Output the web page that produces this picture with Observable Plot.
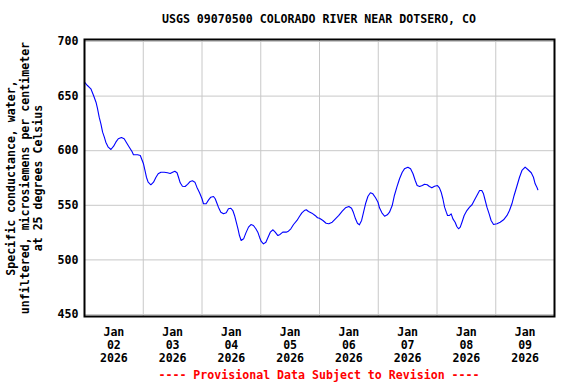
<!DOCTYPE html>
<html><head><meta charset="utf-8">
<script src="https://cdn.jsdelivr.net/npm/d3@7"></script>
<script src="https://cdn.jsdelivr.net/npm/@observablehq/plot@0.6"></script>
<style>
body{margin:0;background:#fff;}
#wrap{position:relative;width:576px;height:384px;overflow:hidden;font-family:"DejaVu Sans Mono",monospace;font-weight:bold;font-size:11.6px;color:#000;}
#title{margin-left:84px;width:470px;height:22px;padding-top:12px;line-height:14px;text-align:center;white-space:nowrap;}
#foot{margin-left:84px;width:470px;height:18px;line-height:18px;text-align:center;color:#ff0000;white-space:nowrap;}
#ylab{position:absolute;left:-124px;top:157px;width:300px;height:42px;line-height:13.5px;text-align:center;transform:rotate(-90deg);white-space:nowrap;}
#chart svg{display:block;font-family:"DejaVu Sans Mono",monospace;font-weight:bold;font-size:11.6px;}
</style></head>
<body>
<div id="wrap">
<div id="title">USGS 09070500 COLORADO RIVER NEAR DOTSERO, CO</div>
<div id="chart"></div>
<div id="foot">---- Provisional Data Subject to Revision ----</div>
<div id="ylab">Specific conductance, water,<br>unfiltered, microsiemens per centimeter<br>at 25 degrees Celsius</div>
</div>
<script>
// hours after 2026-01-02 00:00
const hours = [0,1.2,2.6,3.7,4.7,5.3,6.0,6.7,7.4,8.1,
8.7,9.7,10.8,11.9,12.8,13.8,15.1,16.2,17.3,18.3,
19.4,20.0,21.7,22.8,23.3,24.1,24.7,25.3,26.0,27.1,
28.2,29.2,30.1,31.2,32.6,33.9,35.0,36.0,36.9,37.8,
38.4,39.1,40.0,41.1,42.1,43.2,44.1,45.1,45.9,46.9,
47.3,48.0,48.6,49.7,50.7,51.6,52.7,53.4,54.1,54.7,
55.7,56.8,57.9,58.8,59.8,60.6,61.3,62.0,62.7,63.3,
64.0,65.0,65.9,67.0,68.0,69.0,70.0,70.8,71.5,72.2,
73.1,74.1,74.9,75.9,77.0,77.9,79.0,79.9,81.0,82.4,
83.3,84.3,85.4,86.8,87.8,88.8,89.8,90.6,91.5,92.9,
94.2,95.2,96.0,97.4,98.7,99.8,101.2,102.5,103.9,105.3,
106.6,108.0,109.1,109.9,110.7,111.5,112.3,113.2,114.0,114.8,
115.8,116.8,117.8,118.9,119.9,120.5,121.5,122.6,123.7,124.6,
125.7,126.6,127.6,128.7,129.8,130.7,132.1,133.2,134.2,135.1,
135.9,136.9,138.0,138.9,140.0,140.9,141.9,143.0,144.2,145.0,
145.7,146.4,147.1,147.8,148.3,149.1,149.8,150.5,151.4,152.1,
152.8,153.5,154.2,155.1,156.2,157.3,158.3,159.2,160.3,161.4,
162.3,163.0,163.7,164.4,165.3,166.1,167.1,168.5,169.8,171.2,
172.6,173.6,174.6,175.5,176.6,177.7,178.7,180.0,181.1,182.5,
183.4,184.1,184.8,185.2];
const conductance = [662.7,659.7,656.7,650.6,644.4,638.7,630.7,624.6,617.0,612.4,
607.8,603.2,601.1,604.1,607.8,610.9,612.1,610.9,606.9,603.2,
599.3,596.3,596.3,595.6,592.6,588.0,581.9,575.7,571.2,568.8,
571.2,575.7,578.9,580.3,580.3,579.8,579.1,580.3,581.2,579.8,
575.7,570.6,567.5,567.2,569.1,571.8,572.4,571.2,566.6,562.0,
559.9,556.0,551.4,551.4,555.0,557.4,558.1,556.0,551.9,548.3,
543.7,542.2,543.1,546.8,547.3,545.2,540.7,534.5,528.5,522.3,
517.8,519.3,524.5,530.0,532.4,531.5,528.5,525.4,520.8,516.9,
514.7,516.2,520.2,525.4,527.6,525.4,522.3,523.3,525.4,525.4,
526.3,528.5,532.4,536.1,539.7,543.1,545.2,545.9,544.3,542.8,
540.7,538.6,538.2,536.1,533.6,533.1,534.5,537.6,540.7,544.6,
547.7,548.9,547.3,543.1,537.6,533.6,532.1,536.1,543.7,551.4,
558.3,561.5,560.5,556.9,552.8,547.7,543.1,540.0,541.3,543.7,
549.8,559.0,566.6,574.3,580.3,583.4,584.9,583.4,578.9,572.7,
568.1,567.2,568.1,569.3,568.8,567.2,566.0,567.5,568.1,566.0,
562.0,556.0,548.3,543.7,540.7,540.7,542.2,537.6,534.5,530.6,
528.5,530.0,534.5,540.7,545.2,548.3,550.5,554.4,559.0,563.6,
563.6,560.5,554.4,548.3,542.2,536.1,532.4,533.1,534.5,536.7,
540.7,545.2,551.4,559.0,567.2,575.7,581.9,584.9,582.8,579.8,
575.7,569.7,566.6,564.2];
const yTicks = [450, 500, 550, 600, 650, 700];
const dayLabels = ["2026-01-02","2026-01-03","2026-01-04","2026-01-05","2026-01-06","2026-01-07","2026-01-08","2026-01-09"];
const gridDays = ["2026-01-03","2026-01-04","2026-01-05","2026-01-06","2026-01-07","2026-01-08","2026-01-09"];
const xStart = "2026-01-02", xEnd = "2026-01-10";

const t0 = new Date(xStart + "T00:00:00Z").getTime();
const data = hours.map((h, i) => ({t: new Date(t0 + h * 3600e3), v: conductance[i]}));
const noon = dayLabels.map(d => new Date(d + "T12:00:00Z"));
const grid = gridDays.map(d => new Date(d + "T00:00:00Z"));
const fmt = d3.utcFormat("%b\n%d\n%Y");

const chart = Plot.plot({
  width: 576,
  height: 332,
  marginLeft: 84,
  marginRight: 22,
  marginTop: 5,
  marginBottom: 50,
  insetTop: 2,
  insetBottom: 2,
  style: {fontFamily: "DejaVu Sans Mono", fontWeight: "bold", fontSize: "11.6px", background: "white"},
  x: {type: "utc", domain: [new Date(xStart + "T00:00:00Z"), new Date(xEnd + "T00:00:00Z")]},
  y: {domain: [450, 700]},
  marks: [
    Plot.ruleY(yTicks, {stroke: "#c8c8c8", strokeWidth: 1}),
    Plot.ruleX(grid, {stroke: "#c8c8c8", strokeWidth: 1}),
    Plot.line(data, {x: "t", y: "v", stroke: "#0000ff", strokeWidth: 1.1}),
    Plot.frame({stroke: "black", strokeWidth: 2}),
    Plot.axisY({ticks: yTicks, tickSize: 0, tickPadding: 6, label: null, fontSize: 11.6}),
    Plot.axisX({ticks: noon, tickSize: 0, tickPadding: 11, tickFormat: fmt, label: null, lineHeight: 1.09, fontSize: 11.6})
  ]
});
document.getElementById("chart").appendChild(chart);
</script>
</body></html>
